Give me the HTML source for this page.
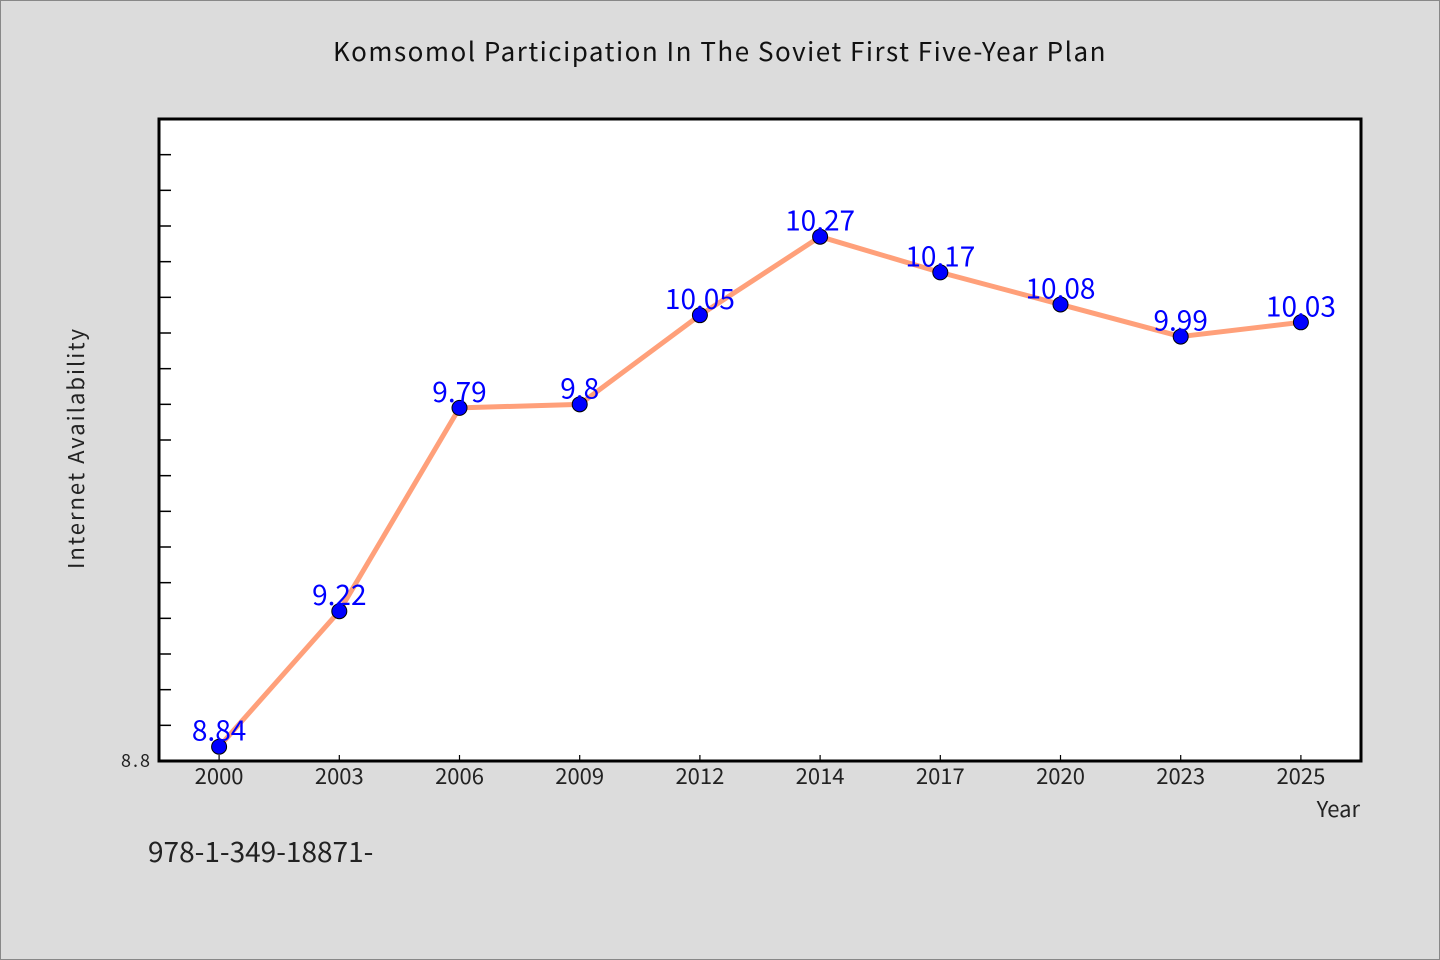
<!DOCTYPE html>
<html><head><meta charset="utf-8">
<style>
body{margin:0;background:#dcdcdc;}
svg{display:block;font-family:"WenQuanYi Zen Hei","Noto Sans CJK SC",sans-serif;}
</style></head>
<body>
<svg id="chart" width="1440" height="960" xmlns="http://www.w3.org/2000/svg">
<rect x="0.5" y="0.5" width="1439" height="959" fill="#dcdcdc" stroke="#888"/>
<text x="720" y="61" text-anchor="middle" font-size="26" fill="#111" letter-spacing="1.5">Komsomol Participation In The Soviet First Five-Year Plan</text>
<rect x="159" y="119" width="1202" height="642" fill="#fff" stroke="#000" stroke-width="3"/>
<g id="yticks"></g>
<g id="xticks"></g>
<g id="series"></g>
<text transform="translate(84,448) rotate(-90)" text-anchor="middle" font-size="22" fill="#222" letter-spacing="2">Internet Availability</text>
<text x="1360" y="817" text-anchor="end" font-size="22" fill="#222">Year</text>
<text x="148" y="862" font-size="28" fill="#222">978-1-349-18871-</text>
</svg>
<script>
const categories=["2000","2003","2006","2009","2012","2014","2017","2020","2023","2025"];
const values=[8.84,9.22,9.79,9.8,10.05,10.27,10.17,10.08,9.99,10.03];
const yTickLabels=["8.8"];
const yMin=8.8,yMax=10.6,yStep=0.1;
const NS="http://www.w3.org/2000/svg";
const L=159,R=1361,T=119,B=761;
const band=(R-L)/categories.length;
const xs=i=>L+band*(i+0.5);
const ys=v=>B-(v-yMin)/(yMax-yMin)*(B-T);
function mk(tag,attrs,parent){const e=document.createElementNS(NS,tag);for(const k in attrs)e.setAttribute(k,attrs[k]);parent.appendChild(e);return e;}
const yt=document.getElementById('yticks');
const n=Math.round((yMax-yMin)/yStep);
for(let i=1;i<n;i++){const y=ys(yMin+i*yStep);
 const t=mk('line',{x1:L,x2:L+12,y1:y,y2:y,stroke:'#000','stroke-width':1.5},yt);
 
 }
yTickLabels.forEach(s=>{const t=mk('text',{x:152,y:ys(parseFloat(s))+6,'text-anchor':'end','font-size':18,fill:'#222','letter-spacing':2},yt);t.textContent=s;
 
 });
const xt=document.getElementById('xticks');
categories.forEach((c,i)=>{const x=xs(i);
 const l=mk('line',{x1:x,x2:x,y1:B,y2:B-6,stroke:'#000','stroke-width':1.2},xt);
 
 
 const t=mk('text',{x:x,y:784,'text-anchor':'middle','font-size':22,fill:'#222'},xt);t.textContent=c;
 
 });
const g=document.getElementById('series');
const pl=mk('polyline',{points:values.map((v,i)=>xs(i)+','+ys(v)).join(' '),fill:'none',stroke:'#ffa07a','stroke-width':5,'stroke-linejoin':'round'},g);


values.forEach((v,i)=>{
 const c=mk('circle',{cx:xs(i),cy:ys(v),r:7.5,fill:'#0000ff',stroke:'#000','stroke-width':1},g);
 
 
 const t=mk('text',{x:xs(i),y:ys(v)-6,'text-anchor':'middle','font-size':28,fill:'#0000ff'},g);t.textContent=String(v);
 
 });
</script>
</body></html>
